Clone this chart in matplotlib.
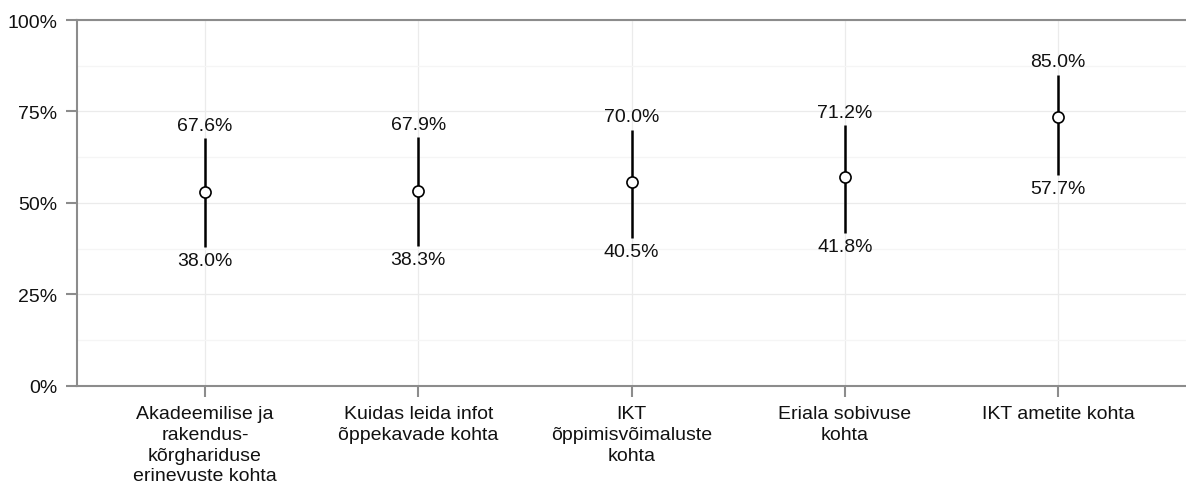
import matplotlib
matplotlib.use('Agg')
import matplotlib.pyplot as plt
from matplotlib.ticker import MultipleLocator, PercentFormatter

plt.rcParams['font.family'] = ['Liberation Sans', 'DejaVu Sans']

categories = ['Akadeemilise ja\nrakendus-\nkõrghariduse\nerinevuste kohta',
              'Kuidas leida infot\nõppekavade kohta',
              'IKT\nõppimisvõimaluste\nkohta',
              'Eriala sobivuse\nkohta',
              'IKT ametite kohta']
lower = [38.0, 38.3, 40.5, 41.8, 57.7]
upper = [67.6, 67.9, 70.0, 71.2, 85.0]
point = [53.1, 53.3, 55.8, 57.2, 73.4]

fs = 14
grey = '#8c8c8c'
txt = '#111111'

fig = plt.figure(figsize=(11.86, 4.89), dpi=100)
ax = fig.add_axes([77 / 1186, (489 - 386.7) / 489, 1 - 77 / 1186, (386.7 - 21) / 489])

x = range(len(categories))
ax.vlines(x, lower, upper, color='black', linewidth=1.8, zorder=3)
ax.plot(x, point, 'o', markersize=8, markerfacecolor='white',
        markeredgecolor='black', markeredgewidth=1.2, zorder=4)

for xi, lo, up in zip(x, lower, upper):
    ax.annotate(f'{up:.1f}%', (xi, up), xytext=(0, 9.5), textcoords='offset points',
                ha='center', va='center', fontsize=fs, color=txt)
    ax.annotate(f'{lo:.1f}%', (xi, lo), xytext=(0, -10), textcoords='offset points',
                ha='center', va='center', fontsize=fs, color=txt)

ax.set_xlim(-0.6, 4.6)
ax.set_ylim(0, 100)
ax.set_xticks(list(x))
ax.set_xticklabels(categories, fontsize=fs, color=txt, linespacing=1.29)
ax.yaxis.set_major_locator(MultipleLocator(25))
ax.yaxis.set_minor_locator(MultipleLocator(12.5))
ax.yaxis.set_major_formatter(PercentFormatter(decimals=0))
ax.tick_params(axis='y', labelsize=fs, labelcolor=txt)
ax.tick_params(which='major', length=8, width=1.5, color=grey, pad=6)
ax.tick_params(which='minor', length=0)

ax.grid(which='major', color='#ebebeb', linewidth=0.9)
ax.grid(which='minor', axis='y', color='#f5f5f5', linewidth=0.9)
ax.set_axisbelow(True)

for side in ['left', 'bottom', 'top']:
    ax.spines[side].set_color(grey)
    ax.spines[side].set_linewidth(1.5)
ax.spines['right'].set_visible(False)

fig.savefig('out.png', dpi=100)
